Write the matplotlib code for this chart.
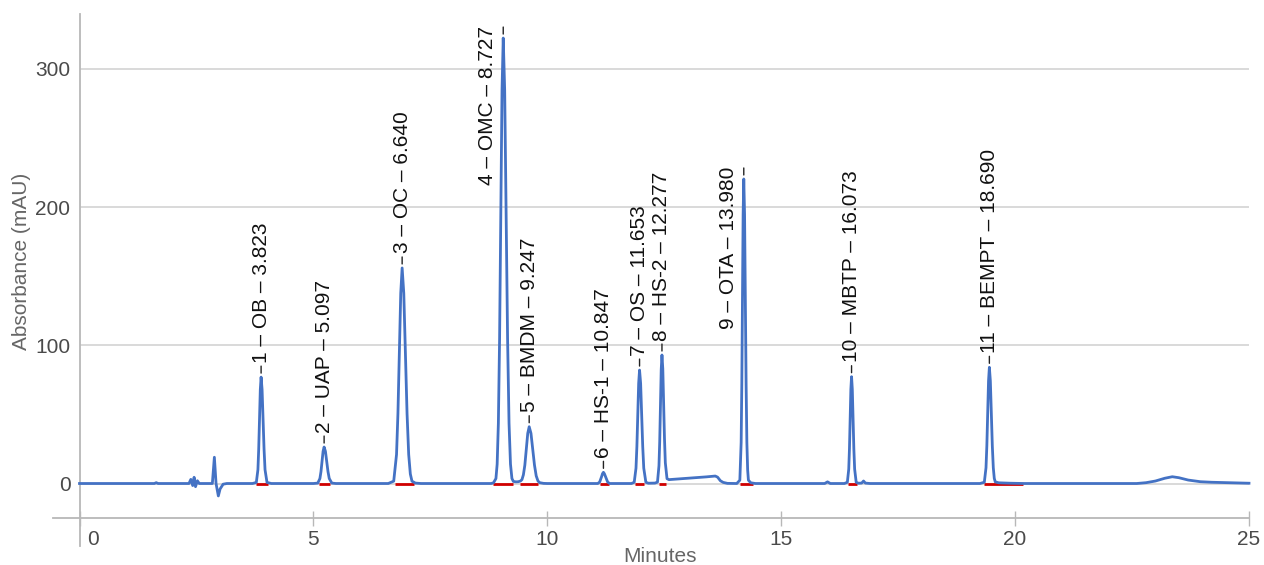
import matplotlib
matplotlib.use("Agg")
import matplotlib.pyplot as plt

# ---------------- data ----------------
minutes = [
    0.00, 1.60, 1.64, 1.68, 2.34, 2.38, 2.42, 2.45, 2.48, 2.52, 2.56,
    2.84, 2.883, 2.919, 2.968, 3.005, 3.07, 3.15, 3.70,
    3.780, 3.814, 3.831, 3.848, 3.865, 3.882, 3.903, 3.924, 3.945, 3.966, 4.008, 4.10,
    5.00, 5.094, 5.139, 5.162, 5.184, 5.207, 5.229, 5.257, 5.284, 5.312, 5.339, 5.394, 5.48,
    6.60, 6.717, 6.777, 6.807, 6.837, 6.867, 6.897, 6.932, 6.967, 7.002, 7.037, 7.072, 7.107, 7.18, 7.30,
    8.80, 8.850, 8.902, 8.928, 8.954, 8.980, 9.006, 9.032, 9.058, 9.089, 9.120, 9.151, 9.182, 9.213, 9.244,
    9.275, 9.33, 9.38,
    9.427, 9.458, 9.489, 9.520, 9.551, 9.582, 9.613, 9.651, 9.688, 9.726, 9.763, 9.801, 9.838, 9.92, 10.00,
    11.05, 11.08, 11.12, 11.16, 11.18, 11.20, 11.22, 11.245, 11.29, 11.33,
    11.80, 11.858, 11.896, 11.915, 11.934, 11.953, 11.972, 11.995, 12.017, 12.040, 12.062, 12.107, 12.16, 12.30,
    12.355, 12.387, 12.403, 12.419, 12.435, 12.451, 12.469, 12.487, 12.505, 12.523, 12.559,
    12.60, 13.00, 13.40, 13.59, 13.64, 13.70, 13.76, 13.85, 14.05,
    14.116, 14.144, 14.158, 14.172, 14.186, 14.200, 14.217, 14.233, 14.250, 14.266, 14.283, 14.299, 14.35, 14.45,
    15.93, 15.99, 16.05, 16.35,
    16.414, 16.444, 16.459, 16.474, 16.489, 16.504, 16.520, 16.537, 16.553, 16.570, 16.603, 16.65,
    16.72, 16.76, 16.80, 16.90, 19.25,
    19.342, 19.378, 19.396, 19.414, 19.432, 19.450, 19.471, 19.492, 19.513, 19.534, 19.555, 19.576,
    19.65, 19.90, 20.20,
    22.60, 22.80, 23.00, 23.20, 23.36, 23.50, 23.70, 23.96, 24.20, 24.53, 25.00,
]
absorbance = [
    0, 0, 0.6, 0, 0, 3, -1.5, 4.5, -2.3, 2, 0,
    0, 19, 0, -9, -4, -0.5, 0, 0,
    0.8, 10, 25, 47, 68, 77, 68, 47, 25, 10, 0.8, 0,
    0, 0.3, 3.6, 8.6, 16, 23.3, 26.4, 23.3, 16, 8.6, 3.6, 0.3, 0,
    0, 1.7, 21, 50.6, 94.6, 137.7, 156, 137.7, 94.6, 50.6, 21, 6.9, 1.7, 0.3, 0,
    0, 0.5, 3.6, 14, 43.6, 104.7, 195.5, 284.5, 322.4, 284.5, 195.5, 104.7, 43.6, 14, 3.6,
    1.5, 1.2, 1.3,
    1.8, 2.8, 6.3, 13.3, 24.9, 36.3, 41.1, 36.3, 24.9, 13.3, 5.5, 1.8, 0.6, 0.1, 0,
    0, 0, 1.1, 4.9, 7.1, 8.1, 7.1, 4.9, 1.1, 0,
    0, 0.9, 11.1, 26.7, 49.8, 72.5, 82.1, 72.5, 49.8, 26.7, 11.1, 0.9, 0.2, 0.3,
    1.0, 12.8, 30.4, 56.6, 82.3, 93, 83, 58, 32.5, 15, 3.5,
    2.8, 3.8, 4.8, 5.4, 4.6, 2.0, 0.8, 0.1, 0,
    2.4, 29.8, 71.6, 133.7, 194.5, 220.4, 194.5, 133.7, 71.6, 29.8, 9.7, 2.4, 0.5, 0,
    0, 1.2, 0, 0,
    0.9, 10.4, 25.1, 46.9, 68.2, 77.3, 68.2, 46.9, 25.1, 10.4, 0.9, 0.2,
    0.3, 1.8, 0.3, 0, 0,
    0.9, 11.4, 27.3, 51, 74.2, 84.1, 74.2, 51, 27.3, 11.4, 3.7, 1.2,
    0.5, 0.2, 0,
    0, 0.6, 1.8, 3.8, 4.9, 4.2, 2.5, 1.3, 0.9, 0.6, 0.2,
]

peak_numbers = [1, 2, 3, 4, 5, 6, 7, 8, 9, 10, 11]
peak_names = ["OB", "UAP", "OC", "OMC", "BMDM", "HS-1", "OS", "HS-2", "OTA", "MBTP", "BEMPT"]
peak_rt_labels = ["3.823", "5.097", "6.640", "8.727", "9.247", "10.847",
                  "11.653", "12.277", "13.980", "16.073", "18.690"]
peak_minutes = [3.882, 5.229, 6.897, 9.058, 9.613, 11.20, 11.972, 12.451, 14.20, 16.504, 19.45]
peak_heights = [77, 26.4, 156, 322.4, 41.1, 8.1, 82.1, 93, 220.4, 77.3, 84.1]

baseline_starts = [3.78, 5.13, 6.75, 8.84, 9.42, 11.13, 11.88, 12.39, 14.12, 16.42, 19.33]
baseline_ends = [4.04, 5.36, 7.14, 9.27, 9.81, 11.32, 12.06, 12.54, 14.40, 16.62, 20.17]

x_ticks = [0, 5, 10, 15, 20, 25]
x_tick_labels = ["0", "5", "10", "15", "20", "25"]
y_ticks = [0, 100, 200, 300]
y_tick_labels = ["0", "100", "200", "300"]

# ---------------- drawing ----------------
plt.rcParams["font.family"] = ["Liberation Sans", "DejaVu Sans"]
W, H = 1264, 565
fig = plt.figure(figsize=(W / 100, H / 100), dpi=100)
ax_left, ax_right, ax_top, ax_bottom = 79.5, 1249.0, 14.0, 517.7
ax = fig.add_axes([ax_left / W, (H - ax_bottom) / H,
                   (ax_right - ax_left) / W, (ax_bottom - ax_top) / H])
ax.set_xlim(0, 25)
ax.set_ylim(-24.75, 339.8)
for s in ax.spines.values():
    s.set_visible(False)

PT = 0.72  # points per pixel
axis_grey = "#b8b8b8"

ax.set_yticks(y_ticks)
ax.set_yticklabels(y_tick_labels)
ax.set_xticks(x_ticks)
ax.set_xticklabels([""] + x_tick_labels[1:])
ax.yaxis.grid(True, color="#d9d9d9", lw=1.4)
ax.set_axisbelow(True)
ax.tick_params(axis="y", length=0, pad=9 * PT, labelsize=15, labelcolor="#4a4a4a")
ax.tick_params(axis="x", direction="inout", length=15 * PT, width=1.0, color=axis_grey,
               pad=5 * PT, labelsize=15, labelcolor="#4a4a4a")
# first x label drawn slightly to the right, as in the reference
ax.annotate(x_tick_labels[0], xy=(x_ticks[0], 0), xycoords=("data", "axes fraction"),
            xytext=(13.5 * PT, -12.5 * PT), textcoords="offset points",
            ha="center", va="top", fontsize=15, color="#4a4a4a")

# axis lines (extending past the corner)
axw = ax_right - ax_left
axh = ax_bottom - ax_top
ax.plot([0, 0], [-28.5 / axh, 1], transform=ax.transAxes, clip_on=False,
        color=axis_grey, lw=1.3, zorder=1)
ax.plot([-26.5 / axw, 1], [0, 0], transform=ax.transAxes, clip_on=False,
        color=axis_grey, lw=1.3, zorder=1)

# integration baselines
ax.hlines([-0.5] * len(baseline_starts), baseline_starts, baseline_ends,
          color="#d00000", lw=2.0, zorder=2.5)

# chromatogram trace
ax.plot(minutes, absorbance, color="#4472C4", lw=2.0, zorder=3,
        solid_joinstyle="round", clip_on=False)

# peak annotations
for n, name, rt, t, h in zip(peak_numbers, peak_names, peak_rt_labels,
                             peak_minutes, peak_heights):
    label = f"{n} \u2013 {name} \u2013 {rt}"
    ax.annotate("", xy=(t, h), xytext=(0, 11 * PT), textcoords="offset points",
                arrowprops=dict(arrowstyle="-", color="#222222", lw=1.0,
                                shrinkA=0, shrinkB=4 * PT), zorder=4)
    if h > 200:
        ax.annotate(label, xy=(t, h), xytext=(-15.5 * PT, 12 * PT), textcoords="offset points",
                    rotation=90, ha="center", va="top", fontsize=15, color="#111111",
                    annotation_clip=False, zorder=4)
    else:
        ax.annotate(label, xy=(t, h), xytext=(0, 14.5 * PT), textcoords="offset points",
                    rotation=90, ha="center", va="bottom", fontsize=15, color="#111111",
                    annotation_clip=False, zorder=4)

fig.text(660 / W, 1 - 556 / H, "Minutes", ha="center", va="center",
         fontsize=15, color="#666666")
fig.text(22 / W, 1 - 261 / H, "Absorbance (mAU)", ha="center", va="center",
         rotation=90, fontsize=15, color="#666666")

fig.savefig("out.png", dpi=100)
